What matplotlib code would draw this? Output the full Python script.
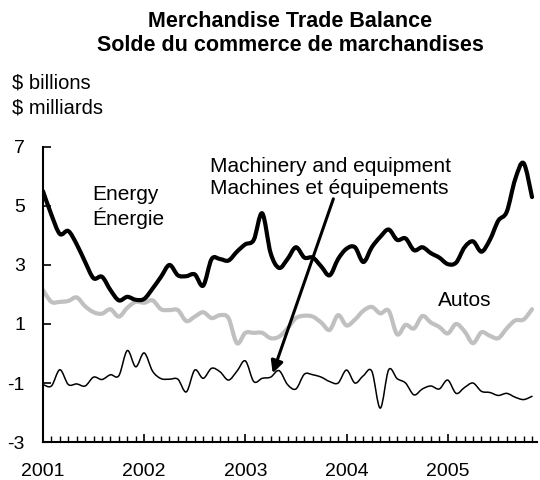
import numpy as np
import matplotlib
matplotlib.use("Agg")
import matplotlib.pyplot as plt
from matplotlib.ticker import MultipleLocator
from matplotlib.path import Path
from matplotlib.patches import PathPatch

plt.rcParams['font.family'] = ['Liberation Sans', 'DejaVu Sans']
plt.rcParams['axes.unicode_minus'] = False

# monthly values, Jan 2001 - Nov 2005 ($ billions)
energy = [5.5, 4.7, 4.05, 4.15, 3.7, 3.1, 2.55, 2.6, 2.15, 1.8,
          1.92, 1.82, 1.85, 2.2, 2.6, 3.0, 2.65, 2.62, 2.68, 2.3,
          3.2, 3.2, 3.15, 3.45, 3.7, 3.85, 4.75, 3.4, 2.9, 3.2,
          3.6, 3.25, 3.25, 2.95, 2.65, 3.2, 3.55, 3.6, 3.1, 3.6,
          3.95, 4.2, 3.85, 3.9, 3.5, 3.6, 3.4, 3.25, 3.03, 3.08,
          3.6, 3.8, 3.45, 3.85, 4.5, 4.8, 5.9, 6.45, 5.3]
autos = [2.15, 1.75, 1.75, 1.78, 1.9, 1.6, 1.4, 1.35, 1.5, 1.25,
         1.55, 1.75, 1.72, 1.8, 1.5, 1.47, 1.47, 1.1, 1.25, 1.4,
         1.2, 1.3, 1.2, 0.35, 0.7, 0.7, 0.7, 0.52, 0.57, 0.85,
         1.2, 1.28, 1.25, 1.05, 0.8, 1.3, 0.95, 1.15, 1.45, 1.58,
         1.36, 1.45, 0.65, 0.97, 0.85, 1.27, 1.05, 0.9, 0.68, 1.0,
         0.75, 0.35, 0.72, 0.6, 0.52, 0.85, 1.12, 1.15, 1.5]
machinery = [-1.05, -1.1, -0.55, -1.05, -1.03, -1.1, -0.8, -0.88, -0.72, -0.75,
             0.1, -0.45, 0.02, -0.6, -0.85, -0.87, -0.87, -1.3, -0.56, -0.84,
             -0.5, -0.62, -0.9, -0.6, -0.25, -0.95, -0.84, -0.8, -0.58, -1.05,
             -1.2, -0.7, -0.72, -0.8, -0.95, -1.0, -0.56, -1.0, -0.75, -0.6,
             -1.85, -0.55, -0.85, -1.0, -1.4, -1.2, -1.1, -1.2, -0.9, -1.35,
             -1.15, -1.0, -1.28, -1.32, -1.42, -1.35, -1.48, -1.56, -1.45]

years = [2001, 2002, 2003, 2004, 2005]
yticks = [-3, -1, 1, 3, 5, 7]

t = 2001 + np.arange(len(energy)) / 12.0


def smooth_line(ax, x, y, **kw):
    # draw the series as a smooth curve (catmull-rom -> bezier), through every point
    p = np.column_stack([x, y])
    pp = np.vstack([p[0], p, p[-1]])
    verts = [p[0]]
    codes = [Path.MOVETO]
    for i in range(len(p) - 1):
        c1 = pp[i + 1] + (pp[i + 2] - pp[i]) / 6.0
        c2 = pp[i + 2] - (pp[i + 3] - pp[i + 1]) / 6.0
        verts += [c1, c2, p[i + 1]]
        codes += [Path.CURVE4] * 3
    patch = PathPatch(Path(verts, codes), fill=False, transform=ax.transData,
                      joinstyle='round', capstyle='round', **kw)
    ax.add_patch(patch)


fig = plt.figure(figsize=(5.4, 4.8), dpi=100)
ax = fig.add_axes([0.0796, 0.079, 0.915, 0.615])

smooth_line(ax, t, autos, edgecolor='#c0c0c0', lw=3.0)
smooth_line(ax, t, machinery, edgecolor='black', lw=1.1)
smooth_line(ax, t, energy, edgecolor='black', lw=3.0)

ax.set_xlim(2001, 2001 + 58.6 / 12)
ax.set_ylim(-3, 7)
ax.set_xticks(years)
ax.set_xticklabels([str(y) for y in years])
ax.xaxis.set_minor_locator(MultipleLocator(1 / 12))
ax.set_yticks(yticks)

for s in ['top', 'right']:
    ax.spines[s].set_visible(False)
for s in ['left', 'bottom']:
    ax.spines[s].set_linewidth(1.5)

ax.tick_params(axis='both', which='major', direction='in', length=6, width=1.2,
               labelsize=14)
ax.tick_params(axis='x', which='major', pad=15)
ax.tick_params(axis='y', which='major', pad=13)
ax.tick_params(axis='x', which='minor', direction='in', length=4, width=1.0)

fig.text(0.537, 0.955, 'Merchandise Trade Balance', ha='center', va='center',
         fontsize=15.5, fontweight='bold')
fig.text(0.537, 0.905, 'Solde du commerce de marchandises', ha='center', va='center',
         fontsize=15.5, fontweight='bold')
fig.text(0.022, 0.827, '$ billions', ha='left', va='center', fontsize=14.5)
fig.text(0.022, 0.775, '$ milliards', ha='left', va='center', fontsize=14.5)

ax.text(2001.49, 4.95, 'Energy\nÉnergie', ha='left', va='center', fontsize=15,
        linespacing=1.2)
ax.text(2002.65, 5.97, 'Machinery and equipment\nMachines et équipements',
        ha='left', va='center', fontsize=15, linespacing=1.2)
ax.text(2004.9, 1.78, 'Autos', ha='left', va='center', fontsize=15)

ax.annotate('', xy=(2003.27, -0.67), xytext=(2003.87, 5.24),
            arrowprops=dict(arrowstyle='-|>', color='black', lw=2.2,
                            mutation_scale=18, shrinkA=0, shrinkB=0))

fig.savefig('out.png', dpi=100)
